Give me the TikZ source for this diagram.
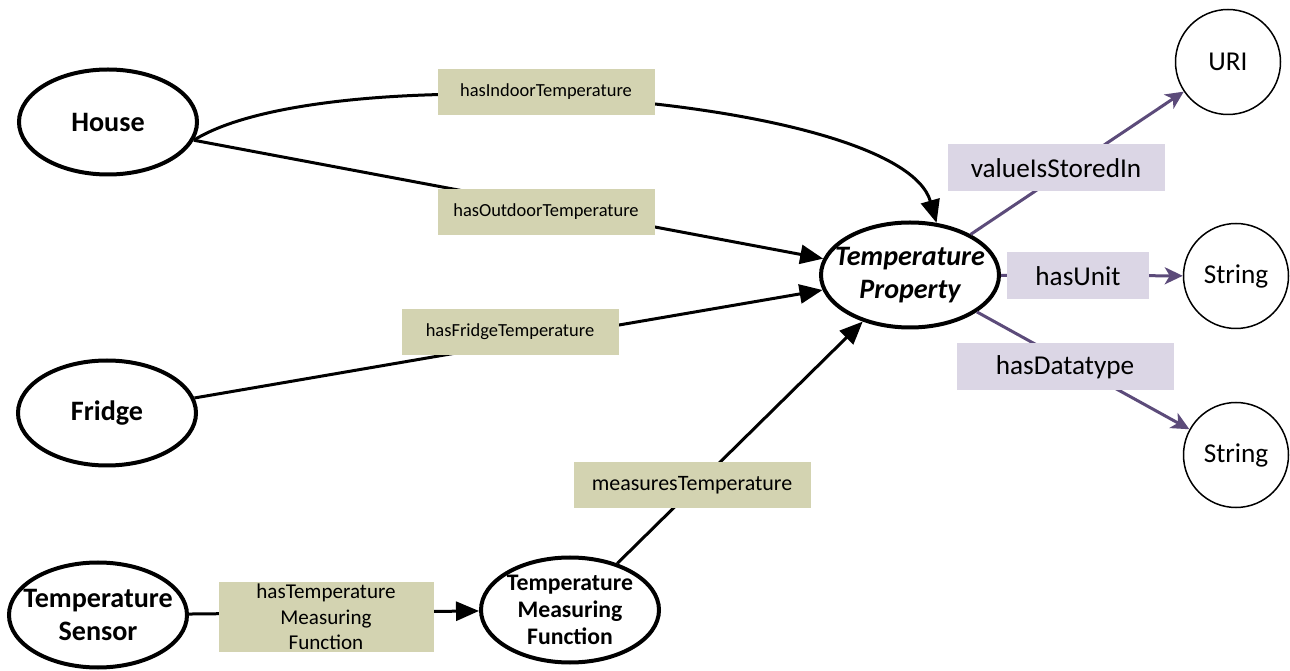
\documentclass[tikz,border=0pt]{standalone}
\usepackage{fontspec}
\setmainfont{Carlito}
\usetikzlibrary{arrows.meta,shapes.geometric}
\definecolor{olivebox}{RGB}{211,211,177}
\definecolor{lilacbox}{RGB}{219,214,229}
\definecolor{datapurple}{RGB}{92,75,122}
\tikzset{
	concept/.style={ellipse, draw, line width=0.8mm, minimum width=35.6mm, minimum height=21mm, inner xsep=-3mm, inner ysep=0pt, align=center, font=\bfseries\fontsize{16}{19}\selectfont},
	literal/.style={circle, draw, line width=0.3mm, minimum size=21mm, inner sep=0pt, font=\fontsize{15.5}{18}\selectfont},
	objlabel/.style={fill=olivebox, inner sep=0pt, align=center, minimum width=43.4mm, minimum height=9.3mm},
	datalabel/.style={fill=lilacbox, inner sep=0pt, minimum width=43.4mm, minimum height=9.4mm, font=\fontsize{15.5}{18}\selectfont},
	objrel/.style={line width=0.6mm, -{Triangle[length=4.6mm,width=3.8mm]}},
	datarel/.style={line width=0.6mm, color=datapurple, -{Stealth[length=3.6mm,width=3.4mm,inset=1mm]}},
}

\begin{document}
\begin{tikzpicture}[x=0.2mm,y=-0.2mm]
		%%%%% START %%%%%
		\useasboundingbox (0,0) rectangle (1290,671);
		
		\node[concept] (house) at (108,122) {House};
		\node[concept] (fridge) at (107,413) {Fridge};
		\node[concept] (sensor) at (98,615) {Temperature\\Sensor};
		\node[concept, inner ysep=-1.5mm, font=\bfseries\fontsize{13.5}{15.5}\selectfont] (measfn) at (570,610) {Temperature\\Measuring\\Function};
		\node[concept, font=\bfseries\itshape\fontsize{16}{19}\selectfont] (tprop) at (910,275) {Temperature\\Property};
		
		\node[literal] (uri) at (1228,62) {URI};
		\node[literal] (unitstr) at (1236,276) {String};
		\node[literal] (typestr) at (1236,455) {String};
		
		\draw[objrel] (house.-12) .. controls (330,55) and (900,95) .. (tprop.63);
		\draw[objrel] (house.-12) -- (tprop);
		\draw[objrel] (fridge) -- (tprop);
		\draw[objrel] (measfn) -- (tprop);
		\draw[objrel] (sensor) -- (measfn);
		
		\draw[datarel] (tprop) -- (uri);
		\draw[datarel] (tprop) -- (unitstr);
		\draw[datarel] (tprop) -- (typestr);
		
		\node[objlabel, font=\fontsize{10.5}{13}\selectfont] (lblindoor) at (546,92) {hasIndoorTemperature};
		\node[objlabel, font=\fontsize{10.5}{13}\selectfont] (lbloutdoor) at (546,212) {hasOutdoorTemperature};
		\node[objlabel, font=\fontsize{10.5}{13}\selectfont] (lblfridge) at (510,332) {hasFridgeTemperature};
		\node[objlabel, minimum width=47.4mm, font=\fontsize{12.5}{15}\selectfont] (lblmeasures) at (692,485) {measuresTemperature};
		\node[objlabel, minimum width=43mm, minimum height=14mm, font=\fontsize{12}{14.5}\selectfont] (lblhasfn) at (326,617) {hasTemperature\\Measuring\\Function};
		
		\node[datalabel] (lblstored) at (1056,168) {valueIsStoredIn};
		\node[datalabel, minimum width=28.4mm] (lblunit) at (1078,276) {hasUnit};
		\node[datalabel] (lbltype) at (1065,367) {hasDatatype};
		%%%%% END %%%%%
\end{tikzpicture}
\end{document}
